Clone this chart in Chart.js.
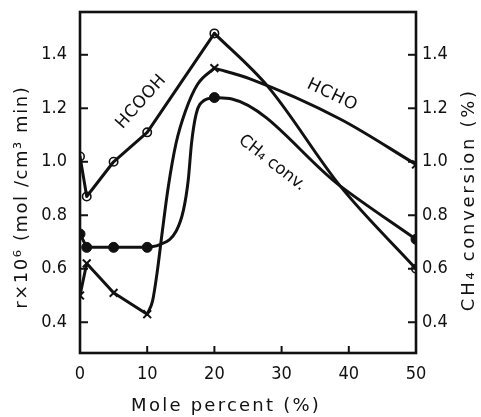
<!DOCTYPE html>
<html>
<head>
<meta charset="utf-8">
<script src="https://cdn.jsdelivr.net/npm/chart.js@4/dist/chart.umd.min.js"></script>
<style>
  html, body { margin: 0; padding: 0; background: #fff; }
  #wrap { width: 481px; height: 417px; position: relative; }
</style>
</head>
<body>
<div id="wrap"><canvas id="chart" width="481" height="417"></canvas></div>
<script>
// measured points (mole percent of additive)
const molePct = [0, 1, 5, 10, 20, 50];
const hcooh = [1.02, 0.87, 1.0, 1.11, 1.48, 0.6];
const hcho = [0.5, 0.62, 0.51, 0.43, 1.35, 0.99];
const ch4Conv = [0.73, 0.68, 0.68, 0.68, 1.24, 0.71];

// drawn curves between the points
const hcoohTraceX = [28.0, 38.7];
const hcoohTraceY = [1.28, 0.91];
const hchoTraceX = [10.8, 11.5, 12.2, 13.1, 14.3, 15.7, 17.5, 25.3, 38.7];
const hchoTraceY = [0.48, 0.59, 0.73, 0.90, 1.07, 1.19, 1.29, 1.31, 1.16];
const ch4TraceX = [11.9, 14.3, 15.4, 16.1, 16.6, 17.3, 18.5, 22.6, 38.7];
const ch4TraceY = [0.69, 0.74, 0.82, 0.93, 1.07, 1.18, 1.23, 1.235, 0.91];

const xTicks = [0, 10, 20, 30, 40, 50];
const yTicks = [0.4, 0.6, 0.8, 1.0, 1.2, 1.4];

const toPts = (xs, ys) => xs.map((x, i) => ({ x: x, y: ys[i] }));
const curve = (xs, ys, tx, ty) =>
  toPts(xs, ys).concat(toPts(tx, ty)).sort((a, b) => a.x - b.x);
const piece = (pts, lo, hi) => pts.filter(p => p.x >= lo && p.x <= hi);

const hcoohAll = curve(molePct, hcooh, hcoohTraceX, hcoohTraceY);
const hchoAll = curve(molePct, hcho, hchoTraceX, hchoTraceY);
const ch4All = curve(molePct, ch4Conv, ch4TraceX, ch4TraceY);

const ink = "#111";
const tickFont = { family: "'Liberation Sans Narrow', 'DejaVu Sans Condensed', 'Liberation Sans'", size: 18 };

// text squeezed or spread to a given width
function fitText(ctx, text, cx, cy, angle, width, font) {
  ctx.save();
  ctx.translate(cx, cy);
  ctx.rotate(angle);
  ctx.font = font;
  ctx.fillStyle = ink;
  ctx.textAlign = "center";
  ctx.textBaseline = "middle";
  ctx.letterSpacing = "0px";
  const w = ctx.measureText(text).width;
  const ls = (width - w) / text.length;
  if (ls < 0) {
    ctx.scale(width / w, 1);
    ctx.fillText(text, 0, 0);
  } else {
    ctx.letterSpacing = ls + "px";
    ctx.fillText(text, ls / 2, 0);
  }
  ctx.restore();
}

const framePlugin = {
  id: "frame",
  afterDraw(chart) {
    const { ctx, chartArea: a, scales } = chart;
    ctx.save();
    ctx.strokeStyle = ink;
    ctx.lineWidth = 2.6;
    ctx.strokeRect(a.left, a.top, a.right - a.left, a.bottom - a.top);
    ctx.lineWidth = 2;
    yTicks.forEach(v => {
      const y = scales.y.getPixelForValue(v);
      ctx.beginPath(); ctx.moveTo(a.left, y); ctx.lineTo(a.left + 8, y); ctx.stroke();
      const y2 = scales.y2.getPixelForValue(v);
      ctx.beginPath(); ctx.moveTo(a.right, y2); ctx.lineTo(a.right - 8, y2); ctx.stroke();
    });
    xTicks.slice(1, -1).forEach(v => {
      const x = scales.x.getPixelForValue(v);
      ctx.beginPath(); ctx.moveTo(x, a.bottom); ctx.lineTo(x, a.bottom - 7); ctx.stroke();
    });
    ctx.restore();

    // curve labels
    fitText(ctx, "HCOOH", 141, 102, -0.84, 66, "17px 'DejaVu Sans'");
    fitText(ctx, "HCHO", 332, 95, 0.45, 54, "17px 'DejaVu Sans'");
    fitText(ctx, "CH\u2084 conv.", 272, 163, 0.66, 80, "17px 'DejaVu Sans'");

    // axis titles
    fitText(ctx, "Mole percent (%)", 225, 406, 0, 190, "18px 'DejaVu Sans'");
    fitText(ctx, "r\u00d710\u2076 (mol /cm\u00b3 min)", 22, 198, -Math.PI / 2, 223, "18px 'DejaVu Sans'");
    fitText(ctx, "CH\u2084 conversion (%)", 469, 201, -Math.PI / 2, 223, "18px 'DejaVu Sans'");
  }
};

function line(label, data, axis, smooth) {
  return {
    label: label, data: data, yAxisID: axis, showLine: true,
    borderColor: ink, borderWidth: 3, pointRadius: 0,
    borderCapStyle: "round", borderJoinStyle: "round",
    tension: smooth ? 0.4 : 0,
    cubicInterpolationMode: smooth ? "monotone" : "default"
  };
}

// keep the plot box fixed: no extra room for edge tick labels
const fixY = w => s => { s.width = w; s.paddingTop = 0; s.paddingBottom = 0; };
const fixX = h => s => { s.height = h; s.paddingLeft = 0; s.paddingRight = 0; };

new Chart(document.getElementById("chart"), {
  type: "scatter",
  data: {
    datasets: [
      line("HCOOH a", piece(hcoohAll, 0, 20), "y", false),
      line("HCOOH b", piece(hcoohAll, 20, 50), "y", true),
      line("HCHO a", piece(hchoAll, 0, 10), "y", false),
      line("HCHO b", piece(hchoAll, 10, 20), "y", true),
      line("HCHO c", piece(hchoAll, 20, 50), "y", true),
      line("CH4 a", piece(ch4All, 0, 10), "y2", false),
      line("CH4 b", piece(ch4All, 10, 20), "y2", true),
      line("CH4 c", piece(ch4All, 20, 50), "y2", true),
      {
        label: "HCOOH pts", data: toPts(molePct, hcooh), showLine: false,
        pointStyle: "circle", pointRadius: 4.2, borderWidth: 1.6,
        borderColor: ink, backgroundColor: "#fff"
      },
      {
        label: "HCHO pts", data: toPts(molePct, hcho), showLine: false,
        pointStyle: "crossRot", pointRadius: 5.5, borderWidth: 2,
        borderColor: ink, backgroundColor: ink
      },
      {
        label: "CH4 pts", data: toPts(molePct, ch4Conv), showLine: false, yAxisID: "y2",
        pointStyle: "circle", pointRadius: 5, borderWidth: 1,
        borderColor: ink, backgroundColor: ink
      }
    ]
  },
  options: {
    responsive: false,
    animation: false,
    layout: { padding: { top: 12, left: 0, right: 0, bottom: 0 } },
    plugins: { legend: { display: false }, tooltip: { enabled: false } },
    scales: {
      x: {
        type: "linear", min: 0, max: 50,
        grid: { display: false, drawTicks: false },
        border: { display: false },
        afterBuildTicks: s => { s.ticks = xTicks.map(v => ({ value: v })); },
        afterFit: fixX(64),
        ticks: { color: ink, font: tickFont, padding: 11, autoSkip: false, maxRotation: 0 }
      },
      y: {
        type: "linear", position: "left", min: 0.285, max: 1.56,
        grid: { display: false, drawTicks: false },
        border: { display: false },
        afterBuildTicks: s => { s.ticks = yTicks.map(v => ({ value: v })); },
        afterFit: fixY(80),
        ticks: { color: ink, font: tickFont, padding: 13, callback: v => v.toFixed(1) }
      },
      y2: {
        type: "linear", position: "right", min: 0.285, max: 1.56,
        grid: { display: false, drawTicks: false },
        border: { display: false },
        afterBuildTicks: s => { s.ticks = yTicks.map(v => ({ value: v })); },
        afterFit: fixY(65),
        ticks: { color: ink, font: tickFont, padding: 6, callback: v => v.toFixed(1) }
      }
    }
  },
  plugins: [framePlugin]
});
</script>
</body>
</html>
